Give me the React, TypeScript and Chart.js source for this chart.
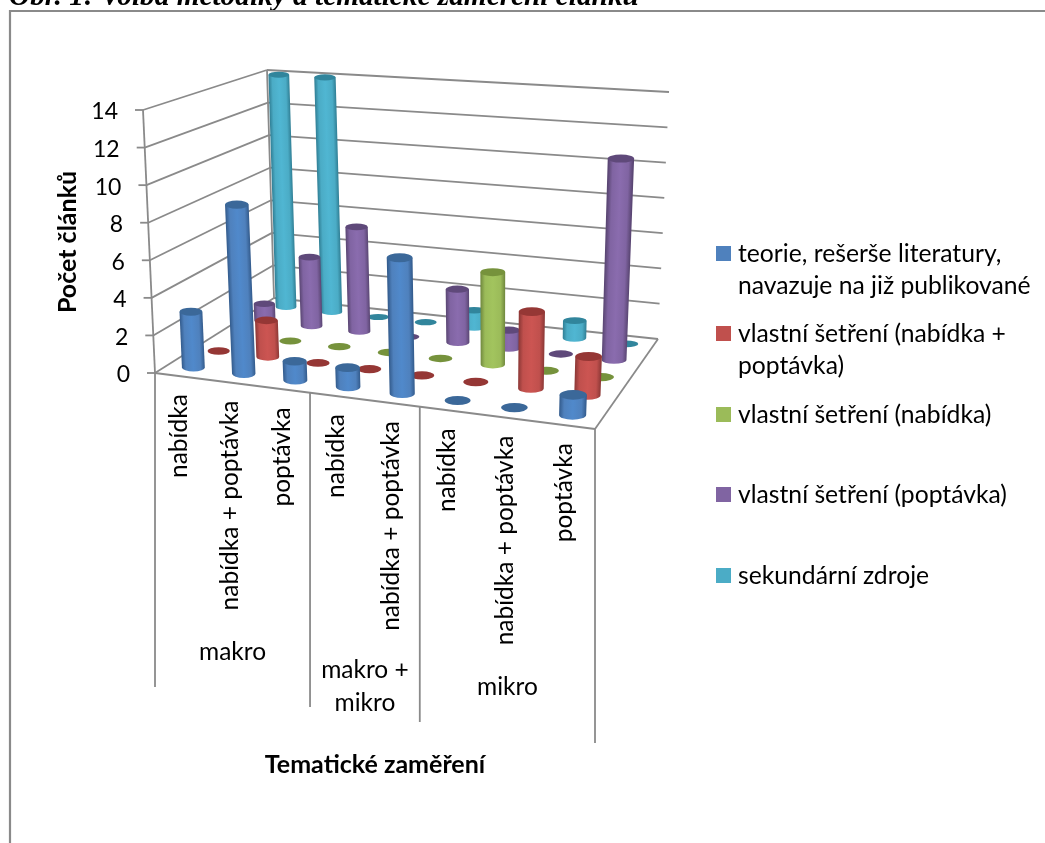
import React, { useEffect, useRef } from "react";
import { Chart, registerables } from "chart.js";

Chart.register(...registerables);

const subCategories = ["nabídka", "nabídka + poptávka", "poptávka", "nabídka", "nabídka + poptávka", "nabídka", "nabídka + poptávka", "poptávka"];
const groupNames = [["makro"], ["makro +", "mikro"], ["mikro"]];
const groupSpans = [3, 2, 3];
const groupBaselines = [660, 678, 695];

const seriesNames = [
  ["teorie, rešerše literatury,", "navazuje na již publikované"],
  ["vlastní šetření (nabídka +", "poptávka)"],
  ["vlastní šetření (nabídka)"],
  ["vlastní šetření (poptávka)"],
  ["sekundární zdroje"],
];
const theory = [3, 9, 1, 1, 7, 0, 0, 1];
const surveyBoth = [0, 2, 0, 0, 0, 0, 4, 2];
const surveySupply = [0, 0, 0, 0, 0, 5, 0, 0];
const surveyDemand = [1, 4, 6, 0, 3, 1, 0, 11];
const secondary = [14, 14, 0, 0, 1, 0, 1, 0];
const seriesValues = [theory, surveyBoth, surveySupply, surveyDemand, secondary];

const caption = "Obr. 1: Volba metodiky a tematické zaměření článku";
const yTitle = "Počet článků";
const xTitle = "Tematické zaměření";

const bodyColors = ["#4F81BD", "#C0504D", "#9BBB59", "#8064A2", "#4BACC6"];
const lightColors = ["#5089CB", "#CC5552", "#A2C45E", "#8A6CAE", "#50B6D2"];
const edgeColors = ["#335B8C", "#8C3836", "#71893F", "#5A4673", "#307F95"];
const capColors = ["#3B6899", "#953735", "#76923C", "#5F497A", "#31859C"];

const FONT = "Lato, Carlito, sans-serif";
const GRID = "#8A8A8A";

type Pt = [number, number];
function makeHomography(p0: Pt, p1: Pt, p2: Pt, p3: Pt) {
  const dx1 = p1[0] - p2[0], dx2 = p3[0] - p2[0], sx = p0[0] - p1[0] + p2[0] - p3[0];
  const dy1 = p1[1] - p2[1], dy2 = p3[1] - p2[1], sy = p0[1] - p1[1] + p2[1] - p3[1];
  const den = dx1 * dy2 - dx2 * dy1;
  const g = (sx * dy2 - dx2 * sy) / den;
  const h = (dx1 * sy - sx * dy1) / den;
  const a = p1[0] - p0[0] + g * p1[0], b = p3[0] - p0[0] + h * p3[0];
  const d = p1[1] - p0[1] + g * p1[1], e = p3[1] - p0[1] + h * p3[1];
  return (u: number, w: number): Pt => {
    const q = g * u + h * w + 1;
    return [(a * u + b * w + p0[0]) / q, (d * u + e * w + p0[1]) / q];
  };
}
// Box frame of the 3D plot: front-left, front-right, back-right, back-left
const floorAt = makeHomography([155, 373], [595, 429], [658, 339], [274, 298]);
const ceilAt = makeHomography([143, 110], [606, 143], [669, 92], [267, 70]);
function project(u: number, w: number, t: number): Pt {
  const a = floorAt(u, w), b = ceilAt(u, w);
  return [a[0] + (b[0] - a[0]) * t, a[1] + (b[1] - a[1]) * t];
}

function fracs(chart: any, cat: number, value: number) {
  const x = chart.scales.x, y = chart.scales.y;
  return {
    u: (x.getPixelForValue(cat) - x.left) / (x.right - x.left),
    t: (y.bottom - y.getPixelForValue(value)) / (y.bottom - y.top),
  };
}

function line(ctx: CanvasRenderingContext2D, a: Pt, b: Pt) {
  ctx.beginPath();
  ctx.moveTo(a[0], a[1]);
  ctx.lineTo(b[0], b[1]);
  ctx.stroke();
}

function drawCylinder(ctx: CanvasRenderingContext2D, u: number, w: number, t: number, s: number) {
  const du = 0.0285;
  const radius = (tt: number) => {
    const l = project(u - du, w, tt), r = project(u + du, w, tt);
    return Math.hypot(r[0] - l[0], r[1] - l[1]) / 2;
  };
  const base = project(u, w, 0), top = project(u, w, t);
  const rb = radius(0), rt = radius(t);
  const squash = 0.36 - 0.08 * w;
  if (t > 0) {
    // shear so the shading follows the slanted cylinder axis
    const k = (top[0] - base[0]) / (top[1] - base[1]);
    ctx.save();
    ctx.transform(1, 0, k, 1, -k * base[1], 0);
    const g = ctx.createLinearGradient(base[0] - rb, 0, base[0] + rb, 0);
    g.addColorStop(0, edgeColors[s]);
    g.addColorStop(0.18, bodyColors[s]);
    g.addColorStop(0.5, lightColors[s]);
    g.addColorStop(0.82, bodyColors[s]);
    g.addColorStop(1, edgeColors[s]);
    ctx.fillStyle = g;
    ctx.beginPath();
    ctx.moveTo(base[0] - rt, top[1]);
    ctx.lineTo(base[0] + rt, top[1]);
    ctx.lineTo(base[0] + rb, base[1]);
    ctx.ellipse(base[0], base[1], rb, rb * squash, 0, 0, Math.PI);
    ctx.closePath();
    ctx.fill();
    ctx.restore();
  }
  ctx.fillStyle = capColors[s];
  ctx.beginPath();
  ctx.ellipse(top[0], top[1], rt, rt * squash, 0, 0, Math.PI * 2);
  ctx.fill();
}

const cylinderPlugin = {
  id: "cylinders",
  beforeDatasetDraw(chart: any, args: any) {
    const { ctx } = chart;
    const s = args.index;
    const w = (s + 0.5) / seriesValues.length;
    ctx.save();
    chart.data.datasets[s].data.forEach((value: number, i: number) => {
      const { u, t } = fracs(chart, i, value);
      drawCylinder(ctx, u, w, t, s);
    });
    ctx.restore();
    return false;
  },
};

const framePlugin = {
  id: "frame3d",
  beforeDatasetsDraw(chart: any) {
    const { ctx } = chart;
    const yScale = chart.scales.y;
    ctx.save();

    // caption (clipped by the page top) and outer frame
    ctx.fillStyle = "#000";
    ctx.font = "italic bold 29.3px 'Liberation Serif', serif";
    ctx.textAlign = "left";
    ctx.textBaseline = "alphabetic";
    ctx.fillText(caption, 9, 5);
    ctx.strokeStyle = GRID;
    ctx.lineWidth = 2.2;
    ctx.beginPath();
    ctx.moveTo(10, 843);
    ctx.lineTo(10, 11);
    ctx.lineTo(1045, 11);
    ctx.stroke();

    // walls: grid lines come from the value axis ticks
    ctx.lineWidth = 1.8;
    yScale.ticks.forEach((tick: any) => {
      const t = (yScale.bottom - yScale.getPixelForValue(tick.value)) / (yScale.bottom - yScale.top);
      const fl = project(0, 0, t), bl = project(0, 1, t), br = project(1, 1, t);
      line(ctx, [fl[0] - 8, fl[1]], fl);
      line(ctx, fl, bl);
      line(ctx, bl, br);
      ctx.fillStyle = "#000";
      ctx.font = `23px ${FONT}`;
      ctx.textAlign = "right";
      ctx.textBaseline = "middle";
      ctx.fillText(String(tick.value), fl[0] - 25, fl[1] + 2);
    });
    line(ctx, project(0, 0, 0), project(0, 0, 1));
    line(ctx, project(0, 1, 0), project(0, 1, 1));
    line(ctx, project(0, 0, 0), project(1, 0, 0));
    line(ctx, project(1, 0, 0), project(1, 1, 0));

    // dividers under the front edge
    const dropEnds = [687, 707, 722, 743];
    let acc = 0;
    [0, ...groupSpans].forEach((span: number, i: number) => {
      acc += span;
      const p = project(acc / subCategories.length, 0, 0);
      line(ctx, p, [p[0], dropEnds[i]]);
    });

    // category labels, rotated
    ctx.fillStyle = "#000";
    ctx.font = `24.5px ${FONT}`;
    subCategories.forEach((label, i) => {
      const { u } = fracs(chart, i, 0);
      const p = project(u, 0, 0);
      ctx.save();
      ctx.translate(p[0] - 1, p[1] + 18);
      ctx.rotate(-Math.PI / 2);
      ctx.textAlign = "right";
      ctx.textBaseline = "middle";
      ctx.fillText(label, 0, 0);
      ctx.restore();
    });

    // group labels
    acc = 0;
    ctx.textAlign = "center";
    ctx.textBaseline = "alphabetic";
    groupNames.forEach((lines, i) => {
      const a = project(acc / subCategories.length, 0, 0);
      acc += groupSpans[i];
      const b = project(acc / subCategories.length, 0, 0);
      lines.forEach((l, k) => ctx.fillText(l, (a[0] + b[0]) / 2, groupBaselines[i] + k * 33));
    });

    // axis titles
    ctx.font = `bold 25px ${FONT}`;
    ctx.fillText(xTitle, 375, 773);
    ctx.save();
    ctx.translate(76, 242);
    ctx.rotate(-Math.PI / 2);
    ctx.fillText(yTitle, 0, 0);
    ctx.restore();

    // legend
    const boxY = [246, 326, 407, 487, 568];
    ctx.textAlign = "left";
    ctx.font = `24.7px ${FONT}`;
    seriesNames.forEach((lines, s) => {
      ctx.fillStyle = bodyColors[s];
      ctx.fillRect(716, boxY[s], 15, 15);
      ctx.fillStyle = "#000";
      lines.forEach((l, k) => ctx.fillText(l, 738, boxY[s] + 16 + k * 31.5));
    });
    ctx.restore();
  },
};

export default function App() {
  const ref = useRef<HTMLCanvasElement>(null);
  useEffect(() => {
    document.body.style.margin = "0";
    document.body.style.overflow = "hidden";
    document.body.style.background = "#fff";
    const chart = new Chart(ref.current as HTMLCanvasElement, {
      type: "bar",
      data: {
        labels: subCategories,
        datasets: seriesValues.map((data, s) => ({
          label: seriesNames[s].join(" "),
          data,
          backgroundColor: bodyColors[s],
        })),
      },
      options: {
        responsive: false,
        animation: false,
        layout: { padding: { left: 155, right: 450, top: 110, bottom: 470 } },
        plugins: { legend: { display: false }, title: { display: false }, tooltip: { enabled: false } },
        scales: {
          x: { display: false },
          y: { display: false, min: 0, max: 14, ticks: { stepSize: 2 } },
        },
      },
      plugins: [framePlugin, cylinderPlugin],
    } as any);
    return () => chart.destroy();
  }, []);
  return <canvas ref={ref} width={1045} height={843} style={{ display: "block", position: "absolute", left: 0, top: 0 }} />;
}
